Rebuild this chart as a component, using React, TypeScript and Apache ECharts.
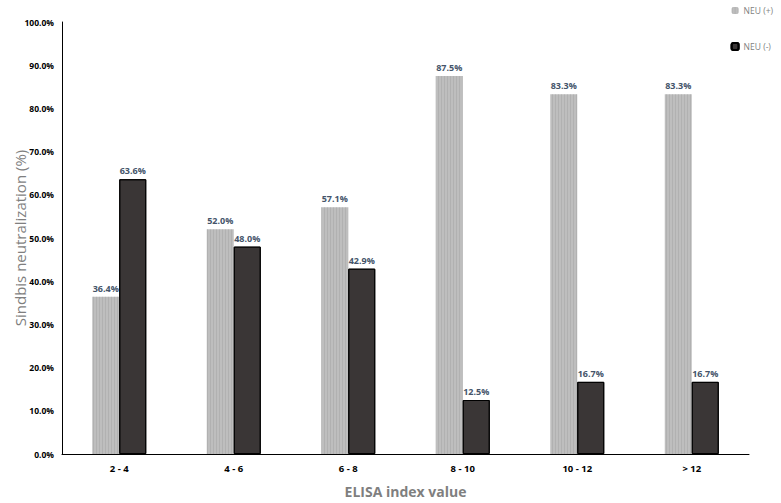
import React, { useEffect, useRef } from "react";
import * as echarts from "echarts";

const categories = ["2 - 4", "4 - 6", "6 - 8", "8 - 10", "10 - 12", "> 12"];
const neuPos = [36.4, 52.0, 57.1, 87.5, 83.3, 83.3];
const neuNeg = [63.6, 48.0, 42.9, 12.5, 16.7, 16.7];
const seriesNames = ["NEU (+)", "NEU (-)"];

export default function App() {
  const ref = useRef<HTMLDivElement>(null);
  useEffect(() => {
    if (!ref.current) return;
    const chart = echarts.init(ref.current, null, { renderer: "svg" });
    const font = "'Open Sans', 'Noto Sans', sans-serif";
    const labelCfg = {
      show: true,
      position: "top" as const,
      distance: 4,
      color: "#44546A",
      fontWeight: "bold" as const,
      fontSize: 9,
      fontFamily: font,
      formatter: (p: any) => p.value.toFixed(1) + "%",
    };
    chart.setOption({
      animation: false,
      backgroundColor: "#fff",
      grid: { left: 62, right: 32, top: 22, bottom: 49, outerBoundsMode: "none" },
      legend: {
        orient: "vertical",
        right: 3,
        top: 1,
        itemGap: 27,
        itemWidth: 7,
        itemHeight: 7,
        textStyle: { color: "#7f7f7f", fontSize: 8.5, fontFamily: font },
        data: seriesNames,
      },
      xAxis: {
        type: "category",
        data: categories,
        name: "ELISA index value",
        nameLocation: "middle",
        nameGap: 30,
        nameMoveOverlap: false,
        nameTextStyle: { color: "#7f7f7f", fontSize: 14, fontWeight: "bold", fontFamily: font },
        axisLine: { lineStyle: { color: "#000", width: 1 } },
        axisTick: { show: false },
        axisLabel: { color: "#000", fontSize: 9.5, fontWeight: "bold", fontFamily: font, margin: 9 },
      },
      yAxis: {
        type: "value",
        min: 0,
        max: 100,
        interval: 10,
        name: "Sindbis neutralization (%)",
        nameLocation: "middle",
        nameGap: 35,
        nameMoveOverlap: false,
        nameTextStyle: { color: "#7f7f7f", fontSize: 15, fontFamily: font },
        axisLine: { show: true, lineStyle: { color: "#000", width: 1 } },
        axisTick: { show: false },
        splitLine: { show: false },
        axisLabel: {
          color: "#000",
          fontSize: 8.5,
          fontWeight: "bold",
          fontFamily: font,
          margin: 8,
          formatter: (v: number) => v.toFixed(1) + "%",
        },
      },
      series: [
        {
          name: seriesNames[0],
          type: "bar",
          data: neuPos,
          barWidth: 27,
          barGap: "0%",
          itemStyle: {
            color: "#BEBEBE",
            decal: {
              symbol: "rect",
              symbolSize: 1,
              dashArrayX: [1, 2],
              dashArrayY: [1, 0],
              color: "rgba(150,150,150,0.35)",
              rotation: 0,
            },
          },
          label: labelCfg,
        },
        {
          name: seriesNames[1],
          type: "bar",
          data: neuNeg,
          barWidth: 27,
          itemStyle: {
            color: "#3A3636",
            borderColor: "#000",
            borderWidth: 1,
            decal: {
              symbol: "circle",
              symbolSize: 0.4,
              dashArrayX: [2, 2],
              dashArrayY: [2, 2],
              color: "rgba(160,150,150,0.5)",
              rotation: 0,
            },
          },
          label: labelCfg,
        },
      ],
    });
    return () => chart.dispose();
  }, []);
  return (
    <div
      ref={ref}
      style={{ position: "absolute", left: 0, top: 0, width: 781, height: 503 }}
    />
  );
}
